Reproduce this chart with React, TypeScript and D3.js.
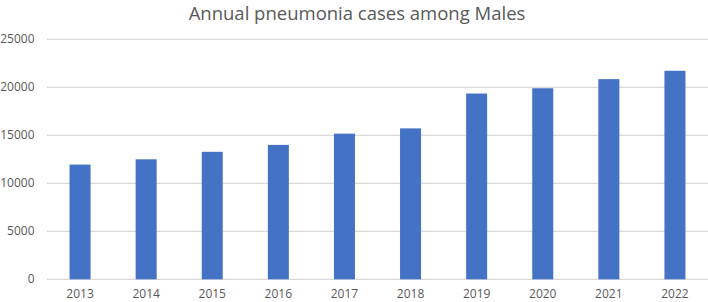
import React from "react";
import * as d3 from "d3";

const years = ["2013", "2014", "2015", "2016", "2017", "2018", "2019", "2020", "2021", "2022"];
const cases = [11950, 12500, 13280, 14000, 15170, 15720, 19350, 19900, 20850, 21720];
const yTicks = [0, 5000, 10000, 15000, 20000, 25000];
const title = "Annual pneumonia cases among Males";

export default function App() {
  const W = 708;
  const H = 302;
  const x = d3.scaleBand<string>().domain(years).range([47, 708]).paddingInner(0.682).paddingOuter(0.341);
  const y = d3.scaleLinear().domain([0, 25000]).range([279.3, 39.3]);
  const font = "'Open Sans', 'Liberation Sans', sans-serif";
  return (
    <svg width={W} height={H} style={{ position: "absolute", left: 0, top: 0, background: "#fff" }}>
      <text x={357} y={19.5} textAnchor="middle" fontFamily={font} fontSize={18.5} fill="#595959">
        {title}
      </text>
      {yTicks.map((t) => (
        <g key={t}>
          <line x1={47} x2={708} y1={y(t)} y2={y(t)} stroke="#d9d9d9" strokeWidth={1.3} />
          <text x={34.5} y={y(t)} dy="0.3em" textAnchor="end" fontFamily={font} fontSize={12} fill="#595959">
            {t}
          </text>
        </g>
      ))}
      {years.map((yr, i) => (
        <rect key={yr} x={x(yr)} y={y(cases[i])} width={x.bandwidth()} height={y(0) - y(cases[i])} fill="#4472C4" />
      ))}
      {years.map((yr) => (
        <text key={yr} x={(x(yr) as number) + x.bandwidth() / 2} y={298} textAnchor="middle" fontFamily={font} fontSize={12} fill="#595959">
          {yr}
        </text>
      ))}
    </svg>
  );
}
